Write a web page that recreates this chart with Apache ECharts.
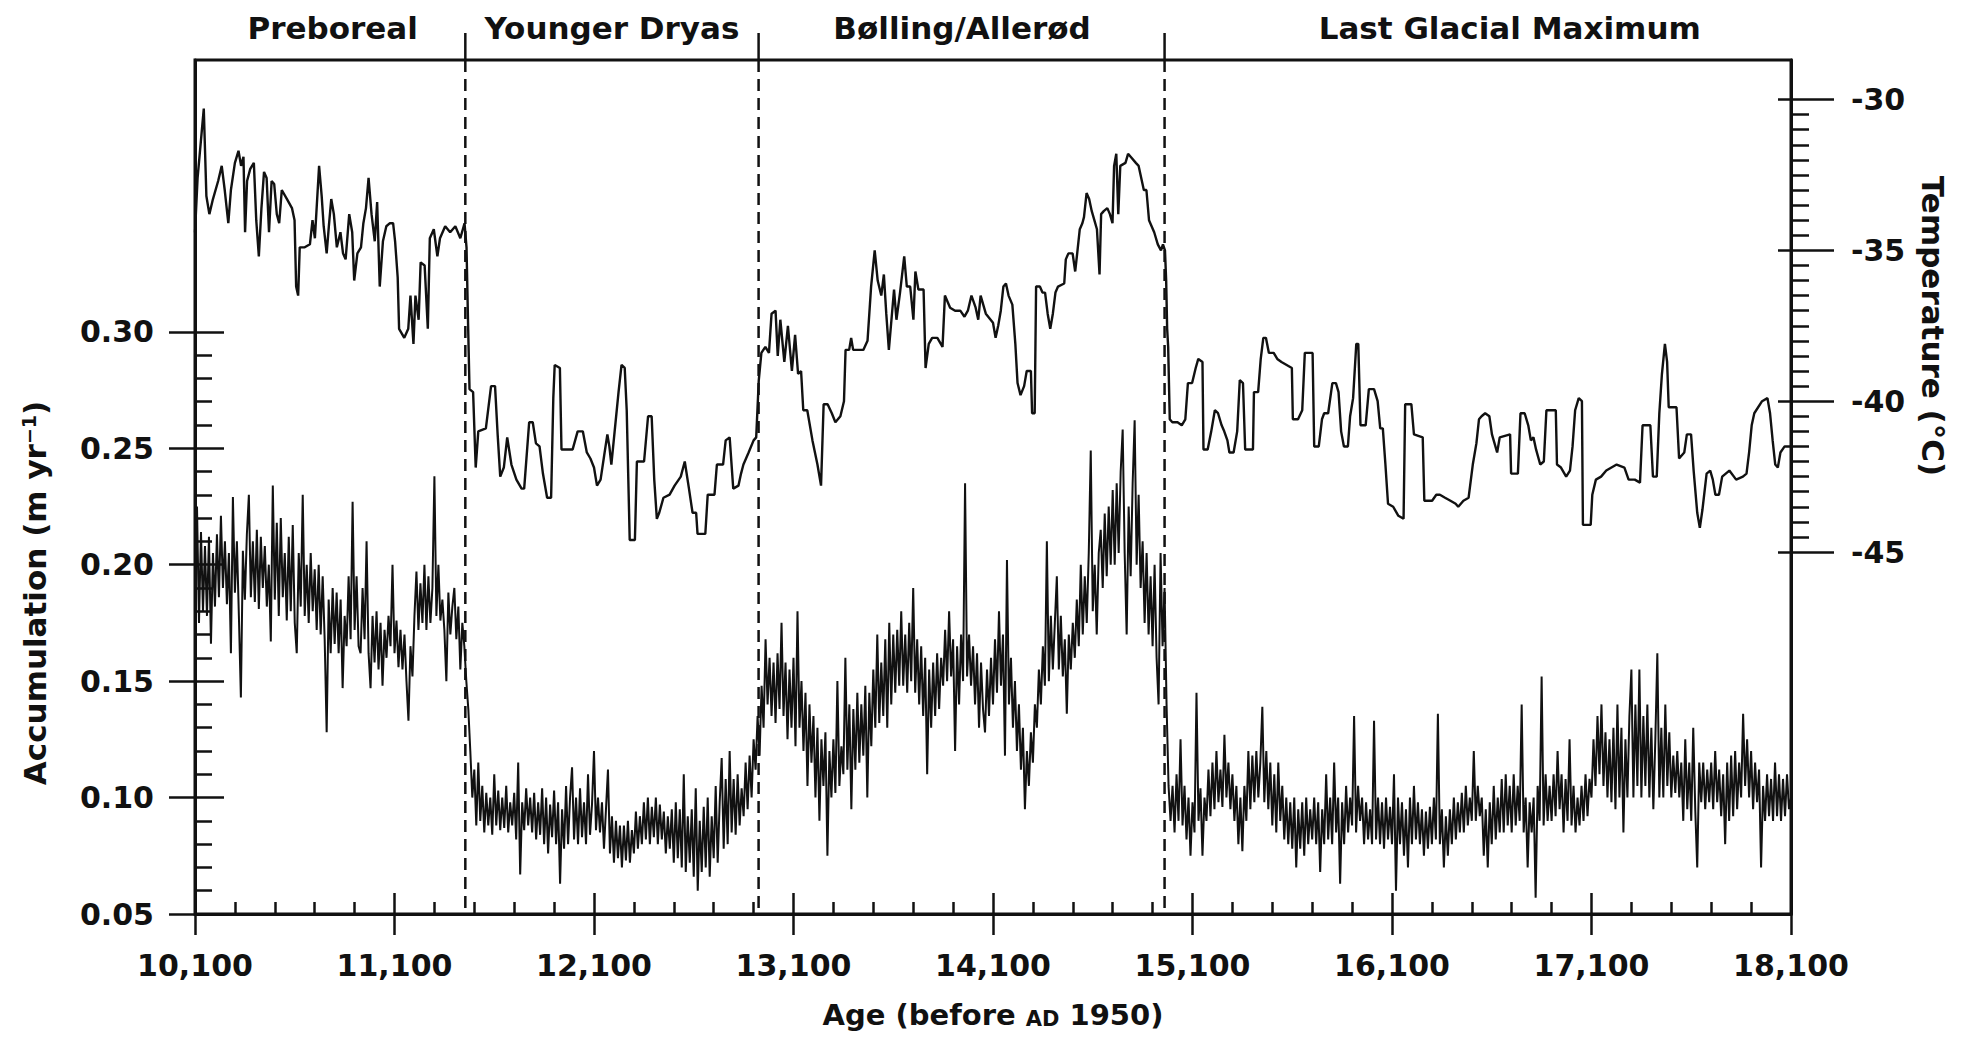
<!DOCTYPE html>
<html><head><meta charset="utf-8">
<script src="https://cdn.jsdelivr.net/npm/echarts@6/dist/echarts.min.js"></script>
<style>html,body{margin:0;padding:0;background:#fff}#chart{width:1969px;height:1042px}</style>
</head><body><div id="chart"></div>
<script>
// ---------- data ----------
const phaseNames = ['Preboreal', 'Younger Dryas', 'Bølling/Allerød', 'Last Glacial Maximum'];
const phaseLabelAge = [10790, 12190, 13945, 16690];
const boundaryAge = [11455, 12925, 14960];

const accTicks = [0.05, 0.10, 0.15, 0.20, 0.25, 0.30];
const accMinorTicks = [0.06,0.07,0.08,0.09,0.11,0.12,0.13,0.14,0.16,0.17,0.18,0.19,0.21,0.22,0.23,0.24,0.26,0.27,0.28,0.29];
const tempTicks = [-30, -35, -40, -45];
const tempMinorTicks = [-30.5,-31,-31.5,-32,-32.5,-33,-33.5,-34,-34.5,-35.5,-36,-36.5,-37,-37.5,-38,-38.5,-39,-39.5,-40.5,-41,-41.5,-42,-42.5,-43,-43.5,-44,-44.5];

const ageMin = 10100, ageMax = 18100;
const accMin = 0.05, accMax = 0.4167;
const tempMin = -57.0, tempMax = -28.69;

// Temperature (°C), age in years before AD 1950
const tempAge = [
10100,10113,10144,10157,10172,10190,10216,10234,10249,10267,10280,10300,10318,10331,10343,10351,10361,10377,10395,10407,
10420,10433,10446,10459,10471,10484,10497,10510,10522,10535,10561,10586,10599,10607,10617,10625,10650,10676,10689,10701,
10722,10735,10745,10760,10771,10783,10796,10811,10829,10842,10855,10873,10888,10898,10914,10932,10944,10957,10970,10985,
11001,11013,11026,11042,11059,11077,11093,11103,11116,11123,11149,11169,11180,11195,11205,11221,11231,11251,11267,11277,
11297,11315,11328,11354,11379,11405,11430,11451,11461,11469,11476,11494,11507,11520,11558,11584,11604,11617,11630,11648,
11665,11686,11711,11737,11750,11775,11793,11809,11827,11844,11865,11885,11896,11903,11929,11937,11993,12018,12044,12064,
12082,12100,12115,12133,12151,12167,12177,12187,12202,12223,12238,12254,12264,12279,12305,12315,12351,12371,12389,12402,
12415,12427,12448,12479,12504,12535,12555,12576,12594,12612,12619,12658,12670,12704,12716,12747,12760,12780,12798,12824,
12837,12849,12875,12900,12913,12926,12939,12959,12977,12990,13010,13021,13034,13054,13072,13092,13108,13123,13138,13149,
13169,13195,13220,13238,13251,13271,13292,13310,13335,13353,13361,13379,13389,13399,13450,13471,13489,13507,13522,13540,
13553,13565,13578,13591,13604,13616,13634,13655,13668,13685,13701,13711,13726,13752,13762,13778,13795,13821,13847,13859,
13885,13910,13936,13957,13974,13992,14013,14026,14038,14064,14100,14113,14126,14139,14152,14165,14178,14197,14212,14223,
14238,14256,14269,14290,14296,14309,14316,14335,14348,14361,14374,14387,14400,14413,14426,14457,14465,14478,14499,14512,
14522,14535,14548,14556,14569,14582,14595,14608,14621,14634,14642,14655,14673,14686,14699,14707,14718,14728,14738,14764,
14777,14790,14816,14830,14843,14856,14869,14882,14908,14926,14942,14952,14962,14968,14973,14978,14986,14999,15025,15046,
15064,15077,15098,15116,15129,15150,15155,15176,15194,15212,15228,15246,15259,15275,15285,15306,15324,15337,15353,15364,
15403,15408,15429,15442,15455,15468,15483,15507,15525,15546,15598,15603,15629,15650,15663,15702,15710,15733,15749,15760,
15780,15801,15819,15832,15845,15859,15879,15890,15905,15921,15931,15942,15968,15984,16010,16028,16041,16054,16067,16080,
16106,16132,16158,16166,16197,16210,16254,16262,16301,16322,16340,16366,16393,16419,16432,16458,16484,16505,16523,16536,
16549,16567,16588,16601,16614,16627,16640,16692,16697,16731,16744,16765,16783,16796,16809,16822,16843,16861,16874,16921,
16927,16947,16973,16992,17005,17018,17036,17052,17057,17096,17104,17122,17148,17174,17200,17226,17265,17286,17317,17343,
17356,17395,17408,17427,17440,17453,17468,17479,17487,17526,17539,17565,17578,17599,17612,17630,17643,17656,17677,17695,
17708,17721,17739,17755,17791,17825,17859,17877,17890,17903,17916,17955,17982,17995,18008,18021,18034,18047,18068,18099
];
const tempVal = [
-34.4,-32.6,-30.3,-33.2,-33.8,-33.3,-32.7,-32.2,-33.0,-34.1,-33.0,-32.1,-31.7,-32.2,-31.9,-34.4,-32.7,-32.3,-32.1,-34.0,
-35.2,-33.6,-32.4,-32.6,-34.4,-32.7,-32.8,-33.8,-34.1,-33.0,-33.3,-33.6,-34.0,-36.2,-36.5,-34.9,-34.9,-34.8,-34.0,-34.6,
-32.2,-33.2,-34.2,-35.1,-34.2,-33.3,-33.8,-34.9,-34.4,-35.1,-35.3,-33.8,-34.4,-36.0,-35.1,-34.9,-34.1,-33.6,-32.6,-33.8,
-34.7,-33.4,-36.2,-34.7,-34.2,-34.1,-34.1,-34.7,-35.9,-37.6,-37.9,-37.6,-36.5,-38.1,-36.5,-37.3,-35.4,-35.5,-37.6,-34.6,
-34.3,-35.2,-34.6,-34.2,-34.4,-34.2,-34.6,-34.1,-34.9,-37.5,-39.6,-39.7,-42.2,-41.0,-40.9,-39.5,-39.5,-41.1,-42.5,-42.2,
-41.2,-42.1,-42.6,-42.9,-42.9,-40.7,-40.7,-41.4,-41.5,-42.4,-43.2,-43.2,-39.9,-38.8,-38.9,-41.6,-41.6,-41.0,-41.0,-41.7,
-41.9,-42.2,-42.8,-42.6,-41.8,-41.1,-41.5,-42.1,-41.1,-39.7,-38.8,-38.9,-40.3,-44.6,-44.6,-42.0,-42.0,-40.5,-40.5,-42.6,
-43.9,-43.7,-43.2,-43.1,-42.8,-42.5,-42.0,-42.9,-43.7,-43.7,-44.4,-44.4,-43.1,-43.1,-42.1,-42.1,-41.3,-41.2,-42.9,-42.8,
-42.4,-42.1,-41.7,-41.3,-41.2,-39.3,-38.4,-38.2,-38.4,-37.1,-37.0,-38.5,-37.3,-38.7,-37.5,-39.0,-37.8,-39.1,-39.0,-40.3,
-40.3,-41.3,-42.1,-42.8,-40.1,-40.1,-40.4,-40.7,-40.5,-40.0,-38.3,-38.3,-37.9,-38.3,-38.3,-38.0,-36.2,-35.0,-36.0,-36.5,
-35.8,-37.1,-38.3,-37.3,-36.3,-37.3,-36.4,-35.2,-36.2,-36.2,-37.3,-35.7,-36.3,-36.3,-38.9,-38.1,-37.9,-37.9,-38.2,-36.5,
-36.9,-37.0,-37.0,-37.2,-37.0,-36.5,-36.9,-37.3,-36.5,-37.1,-37.4,-37.9,-37.5,-37.0,-36.2,-36.1,-36.5,-36.8,-38.1,-39.4,
-39.8,-39.5,-39.0,-39.0,-40.4,-40.4,-36.2,-36.2,-36.4,-36.4,-37.1,-37.6,-37.1,-36.4,-36.2,-36.1,-35.3,-35.1,-35.1,-35.7,
-35.1,-34.3,-34.1,-33.9,-33.1,-33.3,-33.7,-34.0,-34.3,-35.8,-33.8,-33.7,-33.6,-33.8,-34.1,-32.2,-31.8,-33.8,-32.2,-32.1,
-31.8,-31.9,-32.1,-32.2,-32.6,-33.0,-33.0,-34.0,-34.4,-34.8,-35.0,-34.8,-35.0,-36.0,-37.6,-38.2,-40.6,-40.7,-40.7,-40.8,
-40.6,-39.4,-39.4,-38.9,-38.6,-38.7,-41.6,-41.6,-41.0,-40.3,-40.4,-40.8,-41.0,-41.3,-41.7,-41.7,-41.0,-39.3,-39.4,-41.6,
-41.6,-39.7,-39.7,-38.6,-37.9,-37.9,-38.4,-38.4,-38.6,-38.7,-38.9,-40.6,-40.6,-40.3,-38.4,-38.4,-41.5,-41.5,-40.6,-40.4,
-40.4,-39.4,-39.4,-39.7,-41.0,-41.5,-41.5,-40.5,-39.9,-38.1,-38.1,-40.8,-40.8,-39.6,-39.6,-40.0,-40.9,-40.9,-42.1,-43.4,
-43.5,-43.8,-43.9,-40.1,-40.1,-41.1,-41.2,-43.3,-43.3,-43.1,-43.1,-43.2,-43.3,-43.4,-43.5,-43.3,-43.2,-42.1,-41.4,-40.6,
-40.5,-40.4,-40.5,-41.1,-41.4,-41.7,-41.2,-41.1,-42.4,-42.4,-40.4,-40.4,-40.8,-41.3,-41.2,-41.6,-42.1,-42.0,-40.3,-40.3,
-42.1,-42.2,-42.5,-42.3,-41.5,-40.3,-39.9,-40.0,-44.1,-44.1,-43.1,-42.6,-42.5,-42.3,-42.2,-42.1,-42.2,-42.6,-42.6,-42.7,
-40.8,-40.8,-42.5,-42.5,-40.4,-39.1,-38.1,-38.7,-40.2,-40.2,-41.9,-41.7,-41.1,-41.1,-42.3,-43.7,-44.2,-43.6,-42.4,-42.3,
-42.6,-43.1,-43.1,-42.5,-42.3,-42.6,-42.5,-42.4,-41.7,-40.8,-40.4,-40.0,-39.9,-40.4,-41.3,-42.1,-42.2,-41.7,-41.5,-41.5
];

// Accumulation (m/yr), one value every 10 years from 10,100 to 18,100 (each row = one century)
const accStart = 10100, accStep = 10;
const accVal = [
.195,.225,.175,.214,.18,.208,.178,.212,.166,.205,
.182,.213,.186,.221,.19,.21,.183,.205,.162,.229,
.188,.21,.178,.143,.206,.185,.213,.23,.186,.21,
.184,.215,.181,.212,.19,.208,.182,.2,.167,.234,
.185,.218,.178,.22,.186,.205,.176,.212,.18,.217,
.175,.162,.205,.182,.23,.178,.2,.175,.205,.18,
.198,.172,.2,.17,.195,.168,.128,.185,.162,.19,
.166,.188,.162,.185,.147,.178,.165,.195,.168,.227,
.172,.195,.165,.162,.19,.168,.21,.162,.147,.178,
.158,.18,.155,.175,.148,.172,.16,.178,.165,.2,
.162,.176,.156,.172,.155,.17,.15,.133,.165,.152,
.178,.197,.172,.192,.175,.2,.172,.195,.175,.19,
.238,.178,.2,.176,.185,.172,.15,.188,.17,.182,
.19,.168,.182,.155,.175,.165,.15,.138,.12,.1,
.112,.088,.115,.09,.105,.085,.102,.088,.1,.084,
.11,.088,.103,.086,.1,.087,.105,.085,.098,.088,
.102,.082,.115,.067,.098,.086,.104,.088,.1,.085,
.102,.082,.098,.084,.104,.08,.1,.076,.097,.083,
.103,.08,.098,.063,.095,.078,.105,.08,.1,.113,
.082,.1,.08,.104,.083,.098,.08,.11,.084,.097,
.12,.086,.1,.085,.098,.078,.095,.112,.076,.092,
.072,.09,.074,.088,.07,.088,.073,.09,.072,.086,
.076,.094,.078,.092,.08,.098,.082,.1,.08,.096,
.083,.1,.08,.097,.082,.094,.076,.092,.078,.095,
.072,.098,.074,.095,.07,.11,.068,.092,.072,.095,
.066,.104,.06,.09,.068,.096,.07,.1,.066,.092,
.074,.105,.072,.098,.117,.078,.108,.08,.12,.085,
.108,.084,.11,.088,.104,.092,.115,.095,.118,.1,
.125,.112,.135,.118,.148,.13,.168,.14,.16,.135,
.158,.132,.162,.138,.175,.135,.158,.125,.155,.13,
.16,.122,.18,.13,.15,.12,.145,.105,.14,.115,
.135,.1,.13,.09,.125,.105,.128,.075,.12,.1,
.125,.102,.15,.105,.122,.11,.16,.112,.14,.095,
.138,.112,.145,.115,.14,.118,.148,.1,.145,.122,
.155,.13,.17,.132,.158,.135,.168,.13,.175,.14,
.17,.145,.172,.148,.18,.148,.17,.145,.175,.15,
.19,.145,.168,.14,.165,.135,.16,.11,.155,.13,
.158,.135,.162,.138,.16,.148,.172,.15,.18,.152,
.168,.12,.165,.14,.17,.15,.235,.152,.17,.148,
.165,.14,.162,.13,.158,.138,.128,.155,.135,.16,
.14,.168,.145,.18,.148,.17,.118,.202,.14,.16,
.13,.15,.12,.14,.112,.13,.095,.12,.105,.128,
.115,.14,.13,.155,.14,.165,.148,.21,.15,.178,
.155,.175,.195,.155,.178,.152,.168,.136,.17,.155,
.175,.16,.185,.165,.2,.17,.195,.175,.205,.249,
.18,.2,.17,.205,.215,.19,.222,.195,.225,.2,
.232,.2,.235,.205,.24,.258,.205,.17,.225,.195,
.235,.262,.2,.23,.19,.21,.175,.205,.17,.195,
.165,.2,.16,.14,.205,.165,.19,.14,.105,.09,
.105,.085,.11,.09,.125,.088,.105,.082,.1,.075,
.098,.085,.145,.09,.104,.075,.1,.09,.112,.092,
.115,.095,.12,.098,.112,.096,.127,.1,.115,.095,
.11,.09,.105,.08,.1,.077,.105,.09,.12,.095,
.118,.098,.12,.1,.115,.139,.098,.12,.095,.115,
.088,.11,.085,.115,.09,.105,.082,.1,.08,.098,
.078,.1,.07,.095,.078,.098,.075,.1,.08,.095,
.082,.1,.08,.098,.068,.095,.08,.11,.082,.1,
.08,.115,.085,.1,.063,.098,.08,.105,.085,.1,
.088,.135,.085,.105,.09,.1,.08,.098,.082,.095,
.08,.133,.082,.1,.08,.098,.078,.1,.082,.096,
.08,.11,.06,.1,.08,.098,.075,.095,.07,.1,
.08,.105,.082,.098,.08,.095,.075,.094,.078,.096,
.08,.1,.082,.136,.08,.095,.07,.092,.075,.095,
.08,.1,.082,.098,.085,.102,.085,.105,.088,.1,
.09,.12,.09,.105,.092,.1,.075,.095,.07,.098,
.08,.105,.082,.1,.085,.108,.085,.11,.088,.105,
.085,.11,.088,.105,.09,.14,.085,.1,.07,.098,
.085,.1,.057,.105,.09,.152,.088,.11,.09,.105,
.09,.11,.092,.12,.095,.11,.085,.108,.09,.125,
.088,.105,.085,.1,.088,.105,.09,.11,.092,.108,
.1,.125,.105,.135,.11,.14,.105,.128,.1,.125,
.098,.13,.095,.14,.1,.13,.085,.125,.1,.135,
.155,.1,.14,.105,.155,.1,.135,.105,.14,.1,
.13,.095,.125,.162,.1,.13,.1,.14,.105,.128,
.1,.118,.102,.12,.1,.115,.09,.125,.095,.115,
.09,.13,.095,.07,.115,.098,.115,.095,.112,.098,
.115,.095,.12,.098,.112,.092,.11,.08,.115,.09,
.118,.092,.12,.095,.115,.1,.136,.105,.125,.1,
.12,.095,.115,.098,.112,.07,.105,.09,.11,.092,
.108,.09,.115,.092,.11,.09,.108,.092,.11,.095,
.1
];

// ---------- chart ----------
const FONT = 'DejaVu Sans';
const INK = '#111';
const lineW = 3, tickW = 2.5;
const chart = echarts.init(document.getElementById('chart'), null, {renderer: 'svg'});

const labelFont = {fontSize: 30, fontWeight: 'bold', fontFamily: FONT, color: INK};
const noSplit = {show: false};

function yAx(o) {
  return Object.assign({type: 'value', splitLine: noSplit, axisLine: {show: false}, axisLabel: {show: false}}, o);
}

const option = {
  animation: false,
  backgroundColor: '#fff',
  grid: {left: 195, right: 178, top: 60, bottom: 128, show: true, borderColor: INK, borderWidth: lineW, backgroundColor: 'transparent'},
  xAxis: [
    {
      type: 'value', min: ageMin, max: ageMax, interval: 1000, position: 'bottom',
      axisLine: {show: true, onZero: false, lineStyle: {color: INK, width: lineW}},
      axisTick: {show: true, inside: false, length: 21, lineStyle: {color: INK, width: tickW}},
      axisLabel: Object.assign({margin: 36, formatter: v => String(v).replace(/\B(?=(\d{3})+(?!\d))/g, ',')}, labelFont),
      splitLine: noSplit,
      name: 'Age (before {sc|AD} 1950)', nameLocation: 'middle', nameGap: 86,
      nameTextStyle: {fontSize: 29, fontWeight: 'bold', fontFamily: FONT, color: INK,
        rich: {sc: {fontSize: 21, fontWeight: 'bold', fontFamily: FONT, color: INK, verticalAlign: 'bottom'}}}
    },
    {
      type: 'value', min: ageMin, max: ageMax, interval: 1000, position: 'bottom',
      axisLine: {show: false}, axisLabel: {show: false}, splitLine: noSplit,
      axisTick: {show: true, inside: true, length: 21, lineStyle: {color: INK, width: tickW}},
      minorTick: {show: true, splitNumber: 5, length: 12, lineStyle: {color: INK, width: tickW}}
    }
  ],
  yAxis: [
    yAx({ // 0: accumulation, labels + outer major ticks
      min: accMin, max: accMax, position: 'left',
      axisLine: {show: true, onZero: false, lineStyle: {color: INK, width: lineW}},
      axisTick: {show: true, inside: false, length: 26, customValues: accTicks, lineStyle: {color: INK, width: tickW}},
      axisLabel: Object.assign({show: true, margin: 41, customValues: accTicks, formatter: v => v.toFixed(2)}, labelFont),
      name: 'Accumulation (m yr{sup|−1})', nameLocation: 'middle', nameRotate: 90, nameGap: 145,
      nameTextStyle: {fontSize: 31, fontWeight: 'bold', fontFamily: FONT, color: INK, padding: [0, 212, 0, 0],
        rich: {sup: {fontSize: 19, fontWeight: 'bold', fontFamily: FONT, color: INK, verticalAlign: 'top'}}}
    }),
    yAx({ // 1: accumulation inner major ticks
      min: accMin, max: accMax, position: 'left',
      axisTick: {show: true, inside: true, length: 29, customValues: accTicks, lineStyle: {color: INK, width: tickW}}
    }),
    yAx({ // 2: accumulation minor ticks
      min: accMin, max: accMax, position: 'left',
      axisTick: {show: true, inside: true, length: 17, customValues: accMinorTicks, lineStyle: {color: INK, width: tickW}}
    }),
    yAx({ // 3: temperature, labels + outer major ticks
      min: tempMin, max: tempMax, position: 'right',
      axisLine: {show: true, onZero: false, lineStyle: {color: INK, width: lineW}},
      axisTick: {show: true, inside: false, length: 43, customValues: tempTicks, lineStyle: {color: INK, width: tickW}},
      axisLabel: Object.assign({show: true, margin: 60, customValues: tempTicks, formatter: v => String(v)}, labelFont),
      name: 'Temperature (°C)', nameLocation: 'middle', nameRotate: -90, nameGap: 126,
      nameTextStyle: {fontSize: 31, fontWeight: 'bold', fontFamily: FONT, color: INK, padding: [0, 322, 0, 0]}
    }),
    yAx({ // 4: temperature inner major ticks
      min: tempMin, max: tempMax, position: 'right',
      axisTick: {show: true, inside: true, length: 13, customValues: tempTicks, lineStyle: {color: INK, width: tickW}}
    }),
    yAx({ // 5: temperature minor ticks (outward)
      min: tempMin, max: tempMax, position: 'right',
      axisTick: {show: true, inside: false, length: 18, customValues: tempMinorTicks, lineStyle: {color: INK, width: tickW}}
    })
  ],
  series: [
    {
      type: 'custom', name: 'boundaries', xAxisIndex: 0, yAxisIndex: 0, silent: true, clip: false, z: 1,
      data: boundaryAge.map(a => [a, accMin]),
      renderItem: function (params, api) {
        const cs = params.coordSys;
        const x = api.coord([api.value(0), accMin])[0];
        return {type: 'group', children: [
          {type: 'line', shape: {x1: x, y1: cs.y, x2: x, y2: cs.y + cs.height}, style: {stroke: INK, lineWidth: 2.5, lineDash: [12, 7]}},
          {type: 'line', shape: {x1: x, y1: cs.y - 27, x2: x, y2: cs.y}, style: {stroke: INK, lineWidth: 2.5}}
        ]};
      }
    },
    {
      type: 'custom', name: 'phases', xAxisIndex: 0, yAxisIndex: 0, silent: true, clip: false, z: 1,
      data: phaseLabelAge.map((a, i) => [a, accMin, i]),
      renderItem: function (params, api) {
        const cs = params.coordSys;
        const x = api.coord([api.value(0), accMin])[0];
        return {type: 'text', x: x, y: cs.y - 32, style: {
          text: phaseNames[api.value(2)], fill: INK, fontSize: 31, fontWeight: 'bold', fontFamily: FONT,
          align: 'center', verticalAlign: 'middle'}};
      }
    },
    {
      type: 'line', name: 'Temperature', xAxisIndex: 0, yAxisIndex: 3, symbol: 'none', showSymbol: false, z: 3,
      data: tempAge.map((a, i) => [a, tempVal[i]]),
      lineStyle: {color: INK, width: 2.4}
    },
    {
      type: 'line', name: 'Accumulation', xAxisIndex: 0, yAxisIndex: 0, symbol: 'none', showSymbol: false, z: 3,
      data: accVal.map((v, i) => [accStart + i * accStep, v]),
      lineStyle: {color: INK, width: 2.0}
    }
  ]
};
chart.setOption(option);
</script>
</body></html>
